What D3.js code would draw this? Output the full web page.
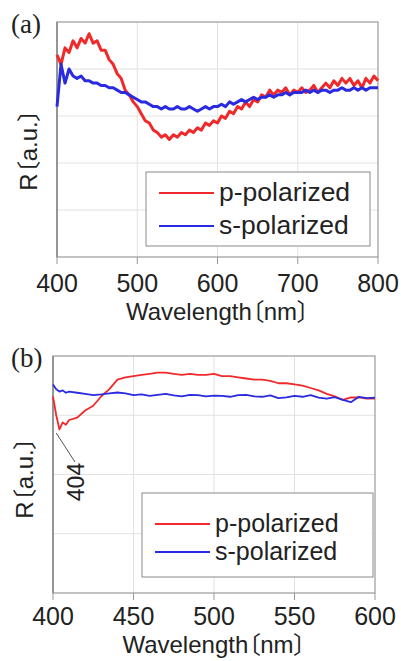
<!DOCTYPE html>
<html>
<head>
<meta charset="utf-8">
<script src="https://d3js.org/d3.v7.min.js"></script>
<style>
  html, body { margin: 0; background: #fff; }
  .tick-lbl { font-family: "Liberation Sans", "Noto Sans", sans-serif; font-size: 25px; fill: #222; }
  .ax-title { font-family: "Liberation Sans", "Noto Sans CJK JP", sans-serif; font-size: 24px; fill: #222;
              font-feature-settings: "palt" 1; }
  .leg { font-family: "Liberation Sans", "Noto Sans", sans-serif; font-size: 24px; fill: #222; }
  .panel { font-family: "Liberation Serif", "DejaVu Serif", serif; font-size: 27px; fill: #222; }
</style>
</head>
<body>
<svg id="chart" width="401" height="661"></svg>
<script>
// panel (a): 400-800 nm
var waveA = [400,405,410,415,420,425,430,435,440,445,450,455,460,465,470,475,480,485,490,495,
             500,505,510,515,520,525,530,535,540,545,550,555,560,565,570,575,580,585,590,595,
             600,605,610,615,620,625,630,635,640,645,650,655,660,665,670,675,680,685,690,695,
             700,705,710,715,720,725,730,735,740,745,750,755,760,765,770,775,780,785,790,795,800];
var redA = [86,82,89,87,92,89,93,91,95,91,92,88,88,84,82,78,76,71,69,66,
            64,61,58,57,54,53,51,52,50,52,51,53,52,54,53,55,54,57,56,58,
            57,60,59,62,61,64,63,66,64,67,66,69,68,71,69,71,70,72,69,71,
            70,72,70,71,73,70,72,74,72,75,73,76,74,76,73,75,72,76,74,77,75];
var blueA = [64,82,74,80,77,76,77,75,75,74,74,73,73,72,72,71,70,70,69,68,
             67,66,66,65,64,64,63,64,63,63,64,63,63,64,63,62,63,64,63,64,
             64,65,64,66,65,66,67,66,67,68,67,68,68,69,68,69,69,70,69,70,
             70,70,71,70,71,70,71,71,70,71,71,72,71,71,72,71,72,71,72,72,72];

// panel (b): 400-600 nm
var waveB = [400,402,404,406,408,410,415,420,425,430,435,440,445,450,455,460,465,470,475,480,485,490,
             495,500,505,510,515,520,525,530,535,540,545,550,555,560,565,570,575,580,585,590,595,600];
var redB = [83,75,69,72,71,73,74,77,79,83,86,90,91,91.5,92,92.5,93,93,92.5,92,92.5,92,
            92,92.5,91.5,91.5,91,90.5,90,90,89.5,88.5,88.5,88,87.5,86.5,85.5,84,83,81.5,82.5,82.5,82,82];
var blueB = [88,86,85,85.5,84.5,85,84.5,84,83.5,83.8,84.2,84.6,84.2,83.5,83.8,83.2,83.6,84,83.4,83,83.6,83.5,
             83,83.3,83.2,82.8,83.5,83.6,83,82.8,83.4,82.2,82.5,83.2,82.8,83.5,82.4,82,82.6,81.5,80.5,82.8,82.2,82.4];

var ticksA = [400, 500, 600, 700, 800];
var ticksB = [400, 450, 500, 550, 600];
var seriesNames = ["p-polarized", "s-polarized"];
var colors = ["#f02a2a", "#2a2ae0"];

var svg = d3.select("#chart");

function panel(o) {
  var x = d3.scaleLinear().domain(o.xd).range([o.l, o.r]);
  var y = d3.scaleLinear().domain([0, 100]).range([o.b, o.t]);
  var g = svg.append("g");

  // grid
  g.selectAll(".gx").data(o.xt.slice(1, -1)).enter().append("line")
    .attr("x1", d => x(d)).attr("x2", d => x(d))
    .attr("y1", o.t).attr("y2", o.b)
    .attr("stroke", "#e2e2e2").attr("stroke-width", 1);
  g.selectAll(".gy").data(o.yg).enter().append("line")
    .attr("x1", o.l).attr("x2", o.r)
    .attr("y1", d => y(d)).attr("y2", d => y(d))
    .attr("stroke", "#e2e2e2").attr("stroke-width", 1);

  // frame + outward ticks
  g.append("rect").attr("x", o.l).attr("y", o.t)
    .attr("width", o.r - o.l).attr("height", o.b - o.t)
    .attr("fill", "none").attr("stroke", "#9a9a9a").attr("stroke-width", 1.2);
  g.append("line").attr("x1", o.l).attr("x2", o.l).attr("y1", o.t).attr("y2", o.b)
    .attr("stroke", "#777").attr("stroke-width", 1.2);
  g.selectAll(".tk").data(o.xt).enter().append("line")
    .attr("x1", d => x(d)).attr("x2", d => x(d))
    .attr("y1", o.b).attr("y2", o.b + 7)
    .attr("stroke", "#999").attr("stroke-width", 1);

  // lines
  var line = d3.line().x((d, i) => x(o.wave[i])).y(d => y(d));
  [o.red, o.blue].forEach(function (s, k) {
    g.append("path").datum(s).attr("d", line)
      .attr("fill", "none").attr("stroke", colors[k])
      .attr("stroke-width", o.sw).attr("stroke-linejoin", "round");
  });

  // tick labels
  g.selectAll(".tl").data(o.xt).enter().append("text")
    .attr("class", "tick-lbl").attr("x", d => x(d)).attr("y", o.b + o.tickDy)
    .attr("text-anchor", "middle").text(d => d);

  g.append("text").attr("class", "ax-title")
    .attr("x", (o.l + o.r) / 2).attr("y", o.b + o.titleDy)
    .attr("text-anchor", "middle").text("Wavelength〔nm〕");
  g.append("text").attr("class", "ax-title")
    .attr("transform", "translate(" + (o.l - 20) + "," + o.ryc + ") rotate(-90)")
    .attr("text-anchor", "middle").text("R〔a.u.〕");
  g.append("text").attr("class", "panel").attr("x", 11).attr("y", o.t + 11).text(o.label);

  // legend
  var lg = g.append("g");
  lg.append("rect").attr("x", o.leg[0]).attr("y", o.leg[1])
    .attr("width", o.leg[2]).attr("height", o.leg[3])
    .attr("fill", "#fff").attr("stroke", "#8a8a8a").attr("stroke-width", 1);
  seriesNames.forEach(function (n, k) {
    var yy = o.leg[1] + o.legRow[k];
    lg.append("line").attr("x1", o.leg[0] + 13).attr("x2", o.leg[0] + 68)
      .attr("y1", yy).attr("y2", yy).attr("stroke", colors[k]).attr("stroke-width", 2);
    lg.append("text").attr("class", "leg").style("font-size", o.legFs + "px")
      .attr("x", o.leg[0] + 73).attr("y", yy + 8).text(n);
  });
  return { x: x, y: y, g: g };
}

panel({ xd: [400, 800], l: 57, r: 378, t: 22, b: 257, xt: ticksA, yg: [20, 40, 60, 80],
        wave: waveA, red: redA, blue: blueA, sw: 3, tickDy: 35, titleDy: 63, ryc: 150,
        label: "(a)", leg: [146, 172, 224, 74], legRow: [21, 54], legFs: 26.5 });

var pb = panel({ xd: [400, 600], l: 53, r: 375, t: 356, b: 593, xt: ticksB, yg: [25, 50, 75],
        wave: waveB, red: redB, blue: blueB, sw: 1.8, tickDy: 32, titleDy: 60, ryc: 478,
        label: "(b)", leg: [142, 493, 231, 84], legRow: [31, 59], legFs: 25 });

// 404 nm annotation
pb.g.append("line").attr("x1", pb.x(402)).attr("y1", 433).attr("x2", 75).attr("y2", 462)
  .attr("stroke", "#555").attr("stroke-width", 1);
pb.g.append("text").attr("class", "leg").style("font-size", "23px")
  .attr("transform", "translate(84,482) rotate(-90)")
  .attr("text-anchor", "middle").text("404");
</script>
</body>
</html>
